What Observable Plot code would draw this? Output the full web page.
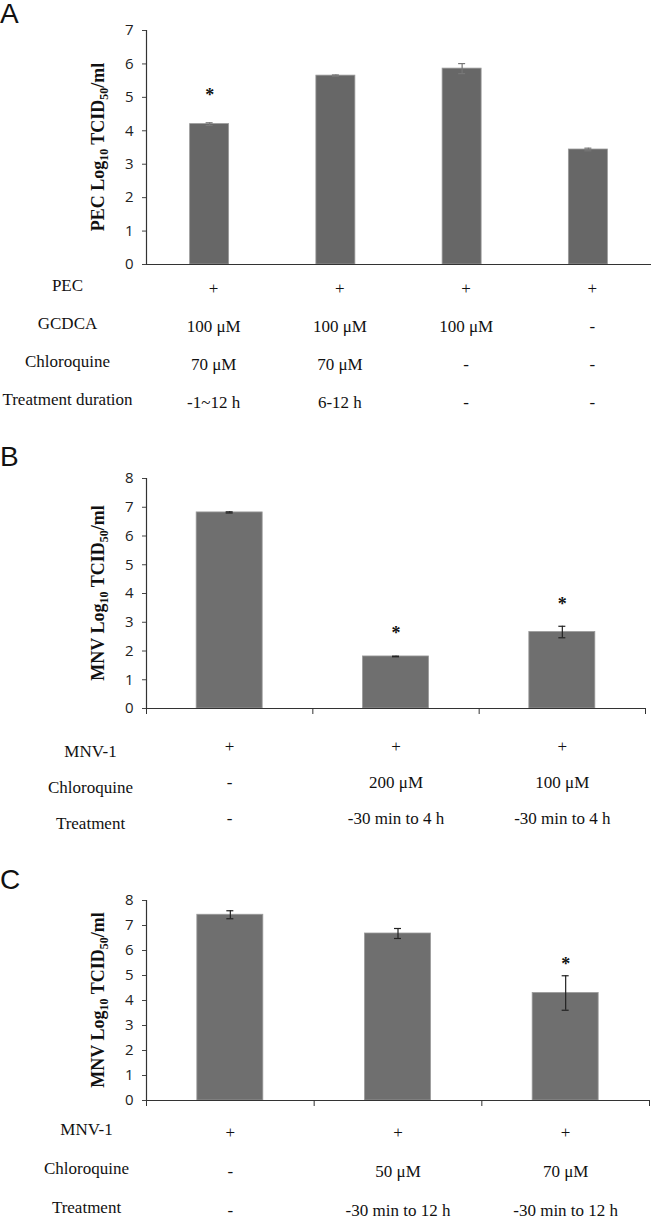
<!DOCTYPE html>
<html>
<head>
<meta charset="utf-8">
<script src="https://cdn.jsdelivr.net/npm/d3@7"></script>
<script src="https://cdn.jsdelivr.net/npm/@observablehq/plot@0.6"></script>
<style>
  html, body { margin: 0; padding: 0; background: #fff; }
  body { position: relative; width: 651px; height: 1218px; overflow: hidden; }
  .box { position: absolute; left: 0; }
  .box svg { background: transparent !important; overflow: visible; }
  .letter { position: absolute; left: 0; z-index: 5; font-family: "Liberation Sans", Arial, sans-serif; font-size: 28px; line-height: 28px; color: #111; }
  .chart svg [aria-label="y-axis tick label"], .chart svg [aria-label="y-axis tick label"] text {
    font-family: "Open Sans", sans-serif !important; font-size: 15px !important; fill: #222;
  }
  .tbl svg, .tbl svg g, .tbl svg text {
    font-family: "Liberation Serif", "Times New Roman", serif !important; font-size: 17px !important; fill: #111;
  }
</style>
</head>
<body>
<div id="chartA" class="box chart" style="top:0px"></div>
<div id="tableA" class="box tbl" style="top:269px"></div>
<div id="chartB" class="box chart" style="top:440px"></div>
<div id="tableB" class="box tbl" style="top:727px"></div>
<div id="chartC" class="box chart" style="top:870px"></div>
<div id="tableC" class="box tbl" style="top:1112px"></div>
<div class="letter" style="top:0px">A</div>
<div class="letter" style="top:443px">B</div>
<div class="letter" style="top:866px">C</div>
<script>
// ---------- Panel A data ----------
const aCategories = ["PEC+GCDCA+CQ (-1~12 h)", "PEC+GCDCA+CQ (6-12 h)", "PEC+GCDCA", "PEC"];
const aValues = [4.2, 5.65, 5.86, 3.44];
const aErrors = [0.04, 0.02, 0.15, 0.04];
const aStars = [5.17, null, null, null];
const aYTicks = [0, 1, 2, 3, 4, 5, 6, 7];
const aYLabel = ["PEC Log", "10", " TCID", "50", "/ml"];
const aRows = ["PEC", "GCDCA", "Chloroquine", "Treatment duration"];
const aCells = [
  ["+", "+", "+", "+"],
  ["100 μM", "100 μM", "100 μM", "-"],
  ["70 μM", "70 μM", "-", "-"],
  ["-1~12 h", "6-12 h", "-", "-"]
];

// ---------- Panel B data ----------
const bCategories = ["MNV-1", "MNV-1+CQ 200 μM", "MNV-1+CQ 100 μM"];
const bValues = [6.82, 1.81, 2.66];
const bErrors = [0.02, 0.01, 0.2];
const bStars = [null, 2.75, 3.76];
const bYTicks = [0, 1, 2, 3, 4, 5, 6, 7, 8];
const bYLabel = ["MNV Log", "10", " TCID", "50", "/ml"];
const bRows = ["MNV-1", "Chloroquine", "Treatment"];
const bCells = [
  ["+", "+", "+"],
  ["-", "200 μM", "100 μM"],
  ["-", "-30 min to 4 h", "-30 min to 4 h"]
];

// ---------- Panel C data ----------
const cCategories = ["MNV-1", "MNV-1+CQ 50 μM", "MNV-1+CQ 70 μM"];
const cValues = [7.43, 6.68, 4.3];
const cErrors = [0.16, 0.2, 0.69];
const cStars = [null, null, 5.63];
const cYTicks = [0, 1, 2, 3, 4, 5, 6, 7, 8];
const cYLabel = ["MNV Log", "10", " TCID", "50", "/ml"];
const cRows = ["MNV-1", "Chloroquine", "Treatment"];
const cCells = [
  ["+", "+", "+"],
  ["-", "50 μM", "70 μM"],
  ["-", "-30 min to 12 h", "-30 min to 12 h"]
];

const W = 651, ML = 146;

function chart(el, o) {
  const n = o.cats.length;
  const data = o.cats.map((c, i) => ({c, i, v: o.vals[i], e: o.errs[i], s: o.stars[i]}));
  const step = (W - ML - o.mr) / n;
  const inset = (step - o.barW) / 2;
  const marks = [
    Plot.rect(data, {x1: d => d.i, x2: d => d.i + 1, y1: 0, y2: "v", insetLeft: inset, insetRight: inset,
      fill: o.fill, stroke: "#9a9a9a", strokeWidth: 0.8}),
    Plot.ruleX(data, {x: d => d.i + 0.5, y1: d => d.v - d.e, y2: d => d.v + d.e, stroke: o.errColor, strokeWidth: 1.2}),
    Plot.ruleY(data, {y: d => d.v + d.e, x1: d => d.i + 0.5, x2: d => d.i + 0.5, insetLeft: -3.5, insetRight: -3.5, stroke: o.errColor, strokeWidth: 1.2}),
    Plot.ruleY(data, {y: d => d.v - d.e, x1: d => d.i + 0.5, x2: d => d.i + 0.5, insetLeft: -3.5, insetRight: -3.5, stroke: o.errColor, strokeWidth: 1.2}),
    Plot.text(data.filter(d => d.s != null), {x: d => d.i + 0.5, y: "s", text: () => "*", dy: 4,
      fontFamily: "'Liberation Serif', serif", fontWeight: "bold", fontSize: 18, fill: "#111"}),
    Plot.ruleY([0], {stroke: "#333", strokeWidth: 1.2}),
    Plot.ruleX([0], {stroke: "#333", strokeWidth: 1.2}),
    Plot.axisY({ticks: o.yTicks, tickSize: 4, tickPadding: 9, tickFormat: d => String(d), stroke: "#444",
      fontSize: 15, fontFamily: "'Open Sans', sans-serif"})
  ];
  if (o.xTicks) marks.push(Plot.axisX({ticks: d3.range(n + 1), tickSize: 6, tickFormat: () => "", stroke: "#333"}));
  const p = Plot.plot({
    width: W, height: o.height,
    marginLeft: ML, marginRight: o.mr, marginTop: o.mt, marginBottom: o.mb,
    style: {background: "transparent", overflow: "visible"},
    x: o.xTicks ? {domain: [0, n]} : {domain: [0, n], axis: null},
    y: {domain: [0, o.yTicks[o.yTicks.length - 1]], label: null},
    marks
  });
  // rotated y label with real subscripts
  const cy = (o.mt + (o.height - o.mb)) / 2;
  const t = d3.select(p).append("text")
    .attr("transform", `translate(104,${cy}) rotate(-90)`)
    .attr("text-anchor", "middle")
    .attr("font-family", "'Liberation Serif', 'Times New Roman', serif")
    .attr("font-weight", "bold")
    .attr("font-size", 18)
    .attr("fill", "#111");
  const parts = o.yLabel;
  t.append("tspan").text(parts[0]);
  t.append("tspan").attr("font-size", 12).attr("dy", 4).text(parts[1]);
  t.append("tspan").attr("dy", -4).text(parts[2]);
  t.append("tspan").attr("font-size", 12).attr("dy", 4).text(parts[3]);
  t.append("tspan").attr("dy", -4).text(parts[4]);
  document.getElementById(el).appendChild(p);
}

function table(el, o) {
  const n = o.cells[0].length;
  const data = o.rows.flatMap((r, ri) => o.cells[ri].map((t, i) => ({r, i, t})));
  const font = "'Liberation Serif', 'Times New Roman', serif";
  const p = Plot.plot({
    width: W, height: o.height,
    marginLeft: ML, marginRight: o.mr, marginTop: 0, marginBottom: 0,
    style: {background: "transparent", overflow: "visible"},
    x: {domain: [0, n], axis: null},
    y: {type: "band", domain: o.rows, padding: 0, axis: null},
    marks: [
      Plot.text(data, {x: d => d.i + 0.5, y: "r", text: "t", dx: o.dx, fontFamily: font, fontSize: 17, fill: "#111"}),
      Plot.text(o.rows, {y: d => d, text: d => d, frameAnchor: "left", dx: o.labelX - ML, dy: o.labelDy,
        textAnchor: "middle", fontFamily: font, fontSize: 17, fill: "#111"})
    ]
  });
  document.getElementById(el).appendChild(p);
}

chart("chartA", {cats: aCategories, vals: aValues, errs: aErrors, stars: aStars, yTicks: aYTicks, yLabel: aYLabel,
  height: 269, mt: 30, mb: 5, mr: 0, barW: 39, fill: "#676767", errColor: "#777", xTicks: false});
table("tableA", {rows: aRows, cells: aCells, height: 152, mr: 0, dx: 4, labelX: 67, labelDy: -3});

chart("chartB", {cats: bCategories, vals: bValues, errs: bErrors, stars: bStars, yTicks: bYTicks, yLabel: bYLabel,
  height: 280, mt: 38, mb: 12, mr: 6, barW: 66, fill: "#6f6f6f", errColor: "#222", xTicks: true});
table("tableB", {rows: bRows, cells: bCells, height: 110, mr: 6, dx: 0, labelX: 90, labelDy: 5});

chart("chartC", {cats: cCategories, vals: cValues, errs: cErrors, stars: cStars, yTicks: cYTicks, yLabel: cYLabel,
  height: 242, mt: 30, mb: 12, mr: 2, barW: 66, fill: "#6f6f6f", errColor: "#222", xTicks: true});
table("tableC", {rows: cRows, cells: cCells, height: 118, mr: 2, dx: 0, labelX: 86, labelDy: -3});
</script>
</body>
</html>
